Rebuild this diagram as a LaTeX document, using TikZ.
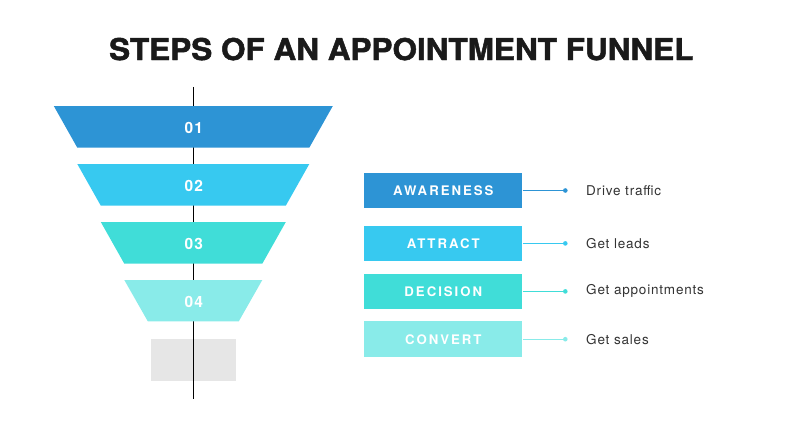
\documentclass[tikz,border=0pt]{standalone}
\usepackage{fontspec}
\setmainfont{TeX Gyre Heros}
\newfontfamily\titlefont[BoldFeatures={FakeBold=1.6}]{TeX Gyre Heros}
\newfontfamily\numfont[LetterSpace=8]{TeX Gyre Heros}
\newfontfamily\boxfont[LetterSpace=15]{TeX Gyre Heros}
\newfontfamily\descfont[LetterSpace=6]{TeX Gyre Heros}
\definecolor{cA}{HTML}{2D94D5}
\definecolor{cB}{HTML}{37C9F0}
\definecolor{cC}{HTML}{40DDD8}
\definecolor{cD}{HTML}{89EBE9}
\definecolor{cgrey}{HTML}{E6E6E6}
\definecolor{ctext}{HTML}{333333}
\definecolor{ctitle}{HTML}{1A1A1A}
\tikzset{
  numlabel/.style={text=white, font=\numfont\fontsize{15.5}{17}\selectfont\bfseries, inner sep=0pt},
  stagebox/.style={minimum width=158pt, minimum height=35.5pt, inner sep=0pt, text=white,
    font=\boxfont\fontsize{13.2}{15}\selectfont\bfseries},
  dotnode/.style={circle, inner sep=0pt, minimum size=4.6pt},
  desc/.style={anchor=west, inner sep=0pt, text=ctext, font=\descfont\fontsize{13.5}{16}\selectfont},
  link/.style={line width=0.9pt},
}
\newcommand{\funneltrap}[5]{% y1, y2, halftop, halfbottom, colour
  \fill[#5] (193.3-#3,#1) -- (193.3+#3,#1) -- (193.3+#4,#2) -- (193.3-#4,#2) -- cycle;}
\begin{document}
\begin{tikzpicture}[x=1pt, y=-1pt]
\useasboundingbox (0,0) rectangle (790,444);
% title
\node[anchor=base, inner sep=0pt, text=ctitle] (title) at (401.3,60)
  {\scalebox{1.05}[1]{\titlefont\fontsize{30}{36}\selectfont\bfseries STEPS OF AN APPOINTMENT FUNNEL}};
% grey base and axis
\fill[cgrey] (150.7,338.7) rectangle (235.7,380.7);
\coordinate (axtop) at (193.3,87);
\coordinate (axbot) at (193.3,399);
\draw[black, line width=0.8pt] (axtop) -- (axbot);
% funnel
\funneltrap{106}{147.7}{139.5}{116}{cA}
\funneltrap{164}{205.7}{116}{92.5}{cB}
\funneltrap{222}{263.7}{92.5}{69}{cC}
\funneltrap{280}{321.3}{69}{45.5}{cD}
\node[numlabel] (n1) at (193.8,128.3) {01};
\node[numlabel] (n2) at (193.8,186.3) {02};
\node[numlabel] (n3) at (193.8,244.3) {03};
\node[numlabel] (n4) at (193.8,302.3) {04};
% stage boxes
\node[stagebox, fill=cA] (b1) at (443.3,190.5) {AWARENESS};
\node[stagebox, fill=cB] (b2) at (443.3,243.4) {ATTRACT};
\node[stagebox, fill=cC] (b3) at (443.3,291.4) {DECISION};
\node[stagebox, fill=cD] (b4) at (443.3,339.2) {CONVERT};
% dots
\node[dotnode, fill=cA] (d1) at (565.3,190.5) {};
\node[dotnode, fill=cB] (d2) at (565.3,243.4) {};
\node[dotnode, fill=cC] (d3) at (565.3,291.4) {};
\node[dotnode, fill=cD] (d4) at (565.3,339.2) {};
\draw[link, cA] (b1.east) -- (d1);
\draw[link, cB] (b2.east) -- (d2);
\draw[link, cC] (b3.east) -- (d3);
\draw[link, cD] (b4.east) -- (d4);
% descriptions
\node[desc] (t1) at (586,190.5) {Drive traffic};
\node[desc] (t2) at (586,243.4) {Get leads};
\node[desc] (t3) at (586,291.4) {Get appointments};
\node[desc] (t4) at (586,339.2) {Get sales};
\end{tikzpicture}
\end{document}
